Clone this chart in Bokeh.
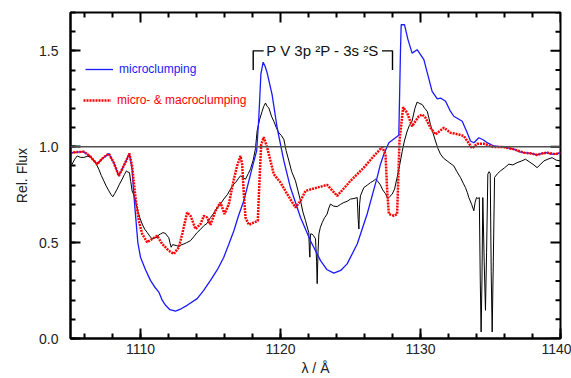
import numpy as np
from bokeh.plotting import figure
from bokeh.models import (Range1d, SingleIntervalTicker, Span, Legend, LegendItem,
                          CustomJSTickFormatter)
from bokeh.core.properties import value
from bokeh.embed import file_html
from bokeh.resources import INLINE

# ---------------- data ----------------
lam_micro = [1105.0, 1105.12, 1105.5, 1105.95, 1106.4, 1106.9, 1107.3, 1107.74, 1108.1, 1108.45,
             1108.8, 1109.21, 1109.4, 1109.52, 1109.81, 1110.0, 1110.35, 1110.71, 1111.0, 1111.31,
             1111.55, 1111.79, 1112.1, 1112.5, 1112.9, 1113.33, 1114.05, 1114.5, 1115.0, 1115.5,
             1115.95, 1116.3, 1116.67, 1117.0, 1117.38, 1117.7, 1117.98, 1118.3, 1118.45, 1118.6,
             1118.76, 1118.9, 1119.05, 1119.4, 1119.76, 1120.24, 1120.71, 1121.43, 1122.14, 1122.86,
             1123.3, 1123.81, 1124.3, 1124.76, 1125.48, 1126.19, 1126.9, 1127.14, 1127.38, 1127.74,
             1128.21, 1128.45, 1128.57, 1128.62, 1128.86, 1129.1, 1129.4, 1129.76, 1130.24, 1130.83,
             1131.2, 1131.43, 1131.79, 1132.1, 1132.38, 1132.98, 1133.3, 1133.57, 1133.81, 1134.17,
             1134.5, 1134.76, 1135.24, 1135.95, 1136.67, 1137.0, 1137.38, 1137.9, 1138.33, 1138.7,
             1139.05, 1139.3, 1139.64, 1140.0]
flux_micro = [0.965, 0.969, 0.972, 0.974, 0.95, 0.909, 0.94, 0.964, 0.915, 0.848,
              0.9, 0.964, 0.88, 0.753, 0.50, 0.424, 0.36, 0.303, 0.27, 0.242,
              0.2, 0.173, 0.15, 0.143, 0.155, 0.173, 0.208, 0.25, 0.303, 0.36,
              0.424, 0.49, 0.562, 0.64, 0.718, 0.81, 0.891, 0.98, 1.15, 1.38,
              1.441, 1.42, 1.384, 1.272, 1.099, 0.926, 0.787, 0.631, 0.51, 0.406,
              0.36, 0.341, 0.355, 0.389, 0.493, 0.649, 0.839, 0.909, 0.961, 1.021,
              1.047, 1.06, 1.5, 1.636, 1.636, 1.56, 1.488, 1.506, 1.454, 1.289,
              1.25, 1.254, 1.237, 1.19, 1.159, 1.133, 1.08, 1.03, 1.021, 1.047,
              1.035, 1.021, 1.004, 0.998, 0.987, 0.975, 0.969, 0.965, 0.957, 0.965,
              0.969, 0.962, 0.961, 0.969]

lam_macro = [1105.0, 1105.12, 1105.5, 1105.95, 1106.4, 1106.9, 1107.3, 1107.74, 1108.1, 1108.45,
             1108.8, 1109.21, 1109.4, 1109.64, 1109.88, 1110.12, 1110.48, 1110.83, 1111.19, 1111.55,
             1112.02, 1112.38, 1112.74, 1112.98, 1113.33, 1113.57, 1113.93, 1114.29, 1114.52, 1114.76,
             1115.0, 1115.36, 1115.71, 1116.0, 1116.31, 1116.67, 1116.9, 1117.14, 1117.26, 1117.38,
             1117.5, 1117.74, 1118.1, 1118.38, 1118.52, 1118.62, 1118.81, 1119.05, 1119.52, 1120.0,
             1120.48, 1121.07, 1121.43, 1121.79, 1122.62, 1123.33, 1124.05, 1125.0, 1125.95, 1126.67,
             1127.26, 1127.5, 1127.62, 1127.74, 1128.1, 1128.33, 1128.5, 1128.76, 1129.05, 1129.4,
             1129.88, 1130.12, 1130.36, 1130.71, 1131.07, 1131.67, 1132.14, 1132.74, 1133.1, 1133.69,
             1134.05, 1134.52, 1135.24, 1135.95, 1136.67, 1137.38, 1137.9, 1138.33, 1138.7, 1139.05,
             1139.64, 1140.0]
flux_macro = [0.965, 0.969, 0.972, 0.974, 0.95, 0.909, 0.94, 0.964, 0.915, 0.848,
              0.9, 0.964, 0.9, 0.735, 0.614, 0.545, 0.502, 0.519, 0.536, 0.493,
              0.458, 0.441, 0.476, 0.545, 0.657, 0.64, 0.571, 0.597, 0.64, 0.631,
              0.593, 0.666, 0.709, 0.649, 0.701, 0.831, 0.90, 0.952, 0.909, 0.753,
              0.631, 0.593, 0.605, 0.614, 0.857, 1.012, 1.05, 0.995, 0.857, 0.813,
              0.753, 0.683, 0.718, 0.77, 0.787, 0.801, 0.744, 0.822, 0.891, 0.952,
              0.998, 0.961, 0.77, 0.649, 0.64, 0.649, 1.03, 1.206, 1.176, 1.107,
              1.159, 1.168, 1.151, 1.099, 1.064, 1.099, 1.073, 1.064, 1.056, 0.992,
              1.016, 1.016, 0.998, 0.998, 0.987, 0.969, 0.965, 0.957, 0.965, 0.969,
              0.961, 0.969]

lam_obs = [1105.0, 1105.12, 1105.3, 1105.48, 1105.7, 1105.95, 1106.2, 1106.43, 1106.6, 1106.79,
           1107.02, 1107.2, 1107.38, 1107.55, 1107.74, 1107.9, 1108.02, 1108.15, 1108.33, 1108.5,
           1108.69, 1108.85, 1109.0, 1109.1, 1109.21, 1109.3, 1109.4, 1109.57, 1109.7, 1109.81,
           1109.95, 1110.12, 1110.3, 1110.48, 1110.65, 1110.83, 1111.0, 1111.19, 1111.3, 1111.43,
           1111.6, 1111.79, 1111.9, 1112.02, 1112.1, 1112.19, 1112.3, 1112.38, 1112.55, 1112.74,
           1112.9, 1113.1, 1113.3, 1113.57, 1113.8, 1114.05, 1114.3, 1114.52, 1114.75, 1115.0,
           1115.25, 1115.48, 1115.7, 1115.95, 1116.2, 1116.43, 1116.6, 1116.79, 1117.0, 1117.14,
           1117.3, 1117.5, 1117.7, 1117.86, 1118.05, 1118.21, 1118.33, 1118.5, 1118.69, 1118.8,
           1118.93, 1119.05, 1119.17, 1119.35, 1119.52, 1119.7, 1119.88, 1120.05, 1120.24, 1120.4,
           1120.6, 1120.8, 1121.07, 1121.25, 1121.43, 1121.6, 1121.79, 1121.95, 1122.02, 1122.07,
           1122.1, 1122.14, 1122.25, 1122.36, 1122.5, 1122.58, 1122.62, 1122.68, 1122.74, 1122.85,
           1122.98, 1123.15, 1123.33, 1123.45, 1123.57, 1123.8, 1124.05, 1124.3, 1124.52, 1124.75,
           1125.0, 1125.25, 1125.48, 1125.55, 1125.6, 1125.65, 1125.71, 1125.95, 1126.2, 1126.43,
           1126.6, 1126.79, 1126.95, 1127.14, 1127.3, 1127.5, 1127.67, 1127.8, 1127.98, 1128.15,
           1128.33, 1128.5, 1128.69, 1128.85, 1129.05, 1129.2, 1129.4, 1129.6, 1129.76, 1129.95,
           1130.12, 1130.3, 1130.48, 1130.6, 1130.71, 1130.9, 1131.07, 1131.25, 1131.43, 1131.65,
           1131.9, 1132.1, 1132.38, 1132.6, 1132.86, 1133.05, 1133.21, 1133.35, 1133.45, 1133.65,
           1133.81, 1133.9, 1134.0, 1134.1, 1134.2, 1134.27, 1134.33, 1134.39, 1134.45, 1134.55,
           1134.64, 1134.72, 1134.81, 1134.9, 1134.98, 1135.05, 1135.12, 1135.2, 1135.29, 1135.5,
           1135.71, 1136.0, 1136.31, 1136.6, 1136.9, 1137.2, 1137.5, 1137.8, 1138.1, 1138.33,
           1138.6, 1138.81, 1139.1, 1139.4, 1139.7, 1140.0]
flux_obs = [0.90, 0.909, 0.935, 0.952, 0.945, 0.944, 0.95, 0.947, 0.935, 0.917,
            0.883, 0.85, 0.822, 0.795, 0.77, 0.75, 0.739, 0.755, 0.779, 0.805,
            0.831, 0.855, 0.874, 0.868, 0.865, 0.82, 0.77, 0.74, 0.70, 0.666,
            0.63, 0.597, 0.57, 0.553, 0.535, 0.519, 0.525, 0.527, 0.54, 0.545,
            0.552, 0.548, 0.535, 0.527, 0.50, 0.476, 0.49, 0.488, 0.485, 0.48,
            0.488, 0.493, 0.50, 0.51, 0.53, 0.553, 0.57, 0.588, 0.60, 0.631,
            0.655, 0.683, 0.70, 0.727, 0.75, 0.779, 0.80, 0.813, 0.835, 0.848,
            0.84, 0.831, 0.86, 0.885, 0.93, 0.99, 1.082, 1.14, 1.185, 1.21,
            1.228, 1.21, 1.202, 1.16, 1.133, 1.10, 1.073, 1.06, 1.038, 0.98,
            0.926, 0.87, 0.822, 0.77, 0.718, 0.66, 0.614, 0.57, 0.553, 0.45,
            0.424, 0.545, 0.545, 0.536, 0.52, 0.40, 0.286, 0.45, 0.545, 0.58,
            0.605, 0.63, 0.649, 0.68, 0.701, 0.69, 0.688, 0.70, 0.709, 0.715,
            0.727, 0.73, 0.735, 0.62, 0.571, 0.70, 0.744, 0.787, 0.80, 0.813,
            0.82, 0.831, 0.82, 0.80, 0.775, 0.755, 0.73, 0.74, 0.753, 0.78,
            0.84, 0.90, 0.975, 1.03, 1.082, 1.11, 1.134, 1.2, 1.233, 1.225,
            1.22, 1.20, 1.185, 1.15, 1.116, 1.07, 1.03, 0.99, 0.961, 0.94,
            0.926, 0.915, 0.9, 0.87, 0.839, 0.81, 0.787, 0.76, 0.735, 0.70,
            0.666, 0.71, 0.735, 0.73, 0.735, 0.30, 0.034, 0.30, 0.735, 0.40,
            0.147, 0.45, 0.857, 0.87, 0.86, 0.35, 0.034, 0.40, 0.84, 0.86,
            0.874, 0.89, 0.909, 0.905, 0.917, 0.925, 0.935, 0.92, 0.905, 0.891,
            0.91, 0.926, 0.935, 0.943, 0.93, 0.926]

continuum = 1.0
line_label = "P V 3p \u00b2P - 3s \u00b2S"
label_lam = [1123.0]
label_flux = [1.5]
bracket_left_lam = [1118.05, 1118.05, 1118.8]
bracket_left_flux = [1.40, 1.50, 1.50]
bracket_right_lam = [1127.25, 1128.0, 1128.0]
bracket_right_flux = [1.50, 1.50, 1.40]

x_min, x_max = 1105, 1140
y_min, y_max = 0.0, 1.7
x_major, x_minor = 10, 2
y_major, y_minor = 0.5, 0.1

FONT = "Liberation Sans"
BLUE = "#1a1aff"
RED = "#ff0000"
TXT = "#222222"
MAJ, MIN, TW = 10, 5, 2

W, H = 571, 378
BL, BR, BT, BB = 70, 11, 12, 40
p = figure(width=W, height=H, output_backend="svg", toolbar_location=None,
           x_range=Range1d(x_min, x_max), y_range=Range1d(y_min, y_max),
           min_border_left=BL, min_border_right=BR, min_border_top=BT, min_border_bottom=BB)
p.xgrid.visible = False
p.ygrid.visible = False
p.outline_line_color = "black"
p.outline_line_width = 2
p.background_fill_color = "white"
p.border_fill_color = "white"

p.xaxis.ticker = SingleIntervalTicker(interval=x_major, num_minor_ticks=5)
p.yaxis.ticker = SingleIntervalTicker(interval=y_major, num_minor_ticks=5)
for ax in (p.xaxis[0], p.yaxis[0]):
    ax.axis_line_color = "black"
    ax.axis_line_width = 2
    ax.major_tick_in = MAJ
    ax.major_tick_out = 0
    ax.minor_tick_in = MIN
    ax.minor_tick_out = 0
    ax.major_tick_line_color = "black"
    ax.minor_tick_line_color = "black"
    ax.major_tick_line_width = TW
    ax.minor_tick_line_width = TW
    ax.major_label_text_font = FONT
    ax.major_label_text_font_size = "14px"
    ax.major_label_text_color = TXT
    ax.axis_label_text_font = FONT
    ax.axis_label_text_font_size = "14px"
    ax.axis_label_text_font_style = "normal"
    ax.axis_label_text_color = TXT

p.xaxis.axis_label = "\u03bb / \u00c5"
p.yaxis.axis_label = "Rel. Flux"
p.xaxis.major_label_standoff = 5
p.xaxis.axis_label_standoff = 3
p.yaxis.major_label_standoff = 12
p.yaxis.axis_label_standoff = 6
p.yaxis.formatter = CustomJSTickFormatter(code="return tick.toFixed(1);")

# mirror ticks on the top and right edges, lengths converted from pixels to data units
frame_w = W - BL - BR
frame_h = H - BT - BB
dx_px = (x_max - x_min) / frame_w
dy_px = (y_max - y_min) / frame_h
top_all = np.arange(x_min + 1, x_max + 0.01, x_minor)
top_len = np.where(np.isclose(np.mod(top_all, x_major), 0), MAJ, MIN) * dy_px
p.segment(x0=top_all, y0=np.full(len(top_all), y_max), x1=top_all, y1=y_max - top_len,
          line_color="black", line_width=TW)
right_all = np.round(np.arange(y_min, y_max + 1e-6, y_minor), 3)
is_major = np.isclose(np.mod(right_all + 1e-9, y_major), 0, atol=1e-6)
right_len = np.where(is_major, MAJ, MIN) * dx_px
p.segment(x0=np.full(len(right_all), x_max), y0=right_all, x1=x_max - right_len, y1=right_all,
          line_color="black", line_width=TW)

p.add_layout(Span(location=continuum, dimension="width", line_color="#505050", line_width=1.5))

r_obs = p.line(lam_obs, flux_obs, line_color="black", line_width=1.0)
r_blue = p.line(lam_micro, flux_micro, line_color=BLUE, line_width=1.3)
r_red = p.line(lam_macro, flux_macro, line_color=RED, line_width=2.5, line_dash="2 1")

# bracket and transition label
p.line(bracket_left_lam, bracket_left_flux, line_color="black", line_width=1.4)
p.line(bracket_right_lam, bracket_right_flux, line_color="black", line_width=1.4)
p.text(x=label_lam, y=label_flux, text=[line_label], text_font=value(FONT),
       text_font_size="15px", text_align="center", text_baseline="middle", text_color="#111111")


def make_legend(label, rend, color, loc):
    lg = Legend(items=[LegendItem(label=label, renderers=[rend])], location=loc,
                label_text_color=color, label_text_font=FONT, label_text_font_size="12px",
                glyph_width=28, glyph_height=12, label_standoff=6, label_height=12,
                padding=0, margin=0, spacing=0, border_line_alpha=0, background_fill_alpha=0)
    p.add_layout(lg)


make_legend("microclumping", r_blue, "#1a1aff", (15, 262))
make_legend("micro- & macroclumping", r_red, RED, (13, 231))

open("out.html", "w").write(file_html(p, INLINE))
